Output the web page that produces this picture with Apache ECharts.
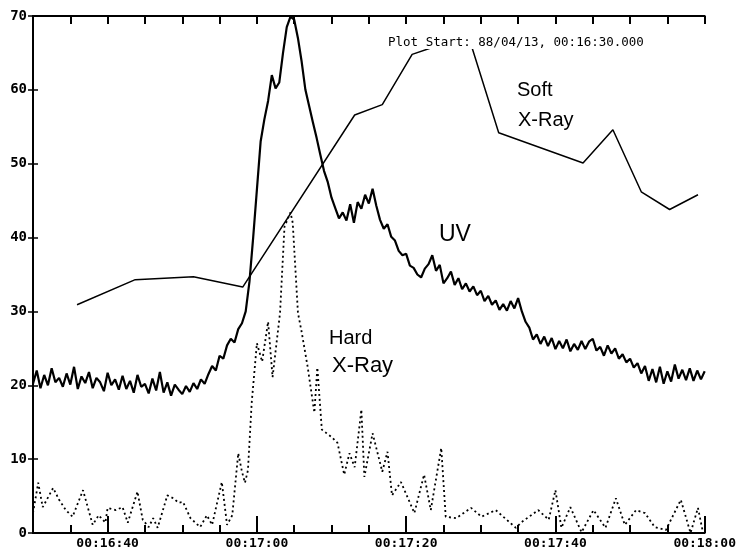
<!DOCTYPE html>
<html>
<head>
<meta charset="utf-8">
<script src="https://cdn.jsdelivr.net/npm/echarts@6/dist/echarts.min.js"></script>
<style>
html,body{margin:0;padding:0;background:#fff;}
#chart{width:739px;height:555px;}
</style>
</head>
<body>
<div id="chart"></div>
<script>
// Seconds after 00:16:30 (plot start)
var xTickValues = [10, 30, 50, 70, 90];
var xTickLabels = ['00:16:40', '00:17:00', '00:17:20', '00:17:40', '00:18:00'];
var yTickValues = [0, 10, 20, 30, 40, 50, 60, 70];

// UV: sampled every 0.5 s from t = 0
var uvStep = 0.5;
var uvValues = [
  20.2, 22.0, 19.6, 21.4, 20.0, 22.3, 20.4, 21.0,
  19.8, 21.6, 20.1, 22.5, 19.5, 21.2, 20.3, 21.8,
  19.6, 21.0, 20.4, 19.2, 21.7, 20.0, 20.8, 19.4,
  21.3, 19.5, 20.6, 19.0, 21.4, 19.8, 20.2, 18.9,
  20.9, 19.3, 21.8, 19.0, 20.4, 18.6, 20.1, 19.4,
  18.8, 19.9, 19.1, 20.3, 19.5, 20.8, 20.2, 21.5,
  22.6, 22.0, 24.0, 23.6, 25.4, 26.3, 25.8, 27.6,
  28.4, 30.0, 34.0, 40.0, 46.5, 53.0, 56.0, 58.5,
  62.0, 60.2, 61.0, 65.0, 68.5, 69.9, 69.5, 67.0,
  63.8, 60.0, 57.8, 55.6, 53.5, 51.2, 49.0, 47.5,
  45.4, 44.0, 42.6, 43.4, 42.3, 44.5, 42.0, 44.8,
  43.9, 45.8, 44.6, 46.6, 44.3, 42.4, 41.2, 41.8,
  40.1, 39.6, 38.2, 37.6, 37.8, 36.2, 35.9, 35.0,
  34.6, 35.8, 36.4, 37.6, 35.5, 36.3, 33.8, 34.5,
  35.4, 33.6, 34.5, 33.0, 33.8, 32.7, 33.4, 32.2,
  32.8, 31.4, 32.1, 30.9, 31.5, 30.2, 31.0, 30.1,
  31.4, 30.4, 31.8, 30.0, 28.6, 27.8, 26.2, 26.9,
  25.6, 26.6, 25.3, 26.4, 24.9, 26.0, 25.0, 26.2,
  24.6, 25.6, 24.8, 26.0, 24.9, 25.9, 26.3, 24.7,
  25.2, 24.0, 25.4, 24.3, 25.0, 23.6, 24.2, 23.1,
  23.6, 22.4, 23.0, 21.6, 22.6, 20.6, 22.2, 20.4,
  22.5, 20.2, 21.9, 20.5, 22.8, 20.9, 22.1, 20.7,
  22.3, 20.6, 22.0, 20.8, 21.9
];

// Soft X-Ray
var softTimes  = [5.9, 13.7, 21.5, 28.1, 43.1, 46.8, 50.8, 53.7, 58.4, 62.4, 73.7, 77.7, 81.5, 85.3, 89.1];
var softValues = [30.9, 34.3, 34.7, 33.3, 56.6, 58.0, 64.8, 65.8, 67.1, 54.2, 50.1, 54.6, 46.2, 43.8, 45.8];

// Hard X-Ray
var hardTimes = [0, 0.7, 1.3, 2.7, 3.5, 4.4, 5.3, 6.7, 8.0, 8.8, 9.7, 10.0, 11.1, 12.0, 12.7, 14.0, 14.7, 15.5, 16.1, 16.7,
  18.0, 18.8, 19.5, 20.1, 21.1, 22.4, 23.3, 24.0, 25.3, 26.0, 26.7, 27.5, 28.0, 28.4, 28.8, 29.3, 30.0, 30.7, 31.5, 32.1,
  33.1, 33.7, 34.5, 34.8, 35.5, 36.0, 36.8, 37.7, 38.1, 38.7, 40.0, 40.8, 41.7, 42.4, 43.1, 44.0, 44.4, 45.5, 46.8, 47.5,
  48.1, 49.3, 51.1, 52.4, 53.3, 54.7, 55.3, 56.7, 58.7, 60.1, 62.0, 64.7, 65.5, 67.7, 69.1, 70.0, 70.8, 72.0, 73.5, 75.1,
  76.7, 78.1, 79.3, 80.8, 82.0, 83.3, 84.8, 86.8, 88.1, 89.1, 89.7];
var hardValues = [2.7, 6.8, 3.5, 6.1, 4.5, 3.1, 2.2, 5.8, 1.1, 2.4, 1.4, 3.4, 3.1, 3.5, 1.4, 5.6, 1.8, 0.8, 2.0, 0.7,
  5.1, 4.7, 4.1, 4.2, 2.0, 0.8, 2.4, 1.1, 6.9, 1.1, 2.4, 10.8, 8.3, 6.8, 8.5, 17.6, 25.7, 23.2, 28.6, 21.1,
  29.8, 41.5, 43.4, 42.0, 29.8, 27.2, 22.5, 16.3, 22.4, 14.0, 13.0, 12.2, 7.9, 10.8, 8.9, 16.7, 7.6, 13.5, 8.3, 11.0,
  5.1, 6.9, 2.7, 7.9, 3.1, 11.5, 2.2, 2.0, 3.4, 2.2, 3.1, 0.7, 1.5, 3.1, 1.8, 5.8, 0.7, 3.5, 0.1, 3.1,
  0.7, 4.7, 1.1, 3.1, 2.7, 0.8, 0.4, 4.5, 0.0, 3.4, 0.4];

var uvData = uvValues.map(function (v, i) { return [i * uvStep, v]; });
var softData = softTimes.map(function (t, i) { return [t, softValues[i]]; });
var hardData = hardTimes.map(function (t, i) { return [t, hardValues[i]]; });

var mono = 'DejaVu Sans Mono';
var hand = 'Liberation Sans';
var black = '#000';

var chart = echarts.init(document.getElementById('chart'), null, {renderer: 'canvas'});
chart.setOption({
  animation: false,
  backgroundColor: '#fff',
  grid: {left: 33, right: 32, top: 16, bottom: 22},
  xAxis: [
    {
      type: 'value', min: 0, max: 90, position: 'bottom',
      axisLine: {show: true, lineStyle: {color: black, width: 2}},
      axisTick: {show: true, inside: true, length: 17, customValues: xTickValues, lineStyle: {color: black, width: 2}},
      axisLabel: {
        customValues: xTickValues, margin: 4, color: black,
        fontFamily: mono, fontWeight: 'bold', fontSize: 13,
        formatter: function (v) { var k = xTickValues.indexOf(v); return k >= 0 ? xTickLabels[k] : ''; }
      },
      splitLine: {show: false}
    },
    {
      type: 'value', min: 0, max: 90, interval: 5, position: 'bottom',
      axisLine: {show: false},
      axisTick: {show: true, inside: true, length: 8, lineStyle: {color: black, width: 2}},
      axisLabel: {show: false}, splitLine: {show: false}
    },
    {
      type: 'value', min: 0, max: 90, interval: 5, position: 'top',
      axisLine: {show: true, lineStyle: {color: black, width: 2}},
      axisTick: {show: true, inside: true, length: 8, lineStyle: {color: black, width: 2}},
      axisLabel: {show: false}, splitLine: {show: false}
    }
  ],
  yAxis: [
    {
      type: 'value', min: 0, max: 70, interval: 10, position: 'left',
      axisLine: {show: true, lineStyle: {color: black, width: 2}},
      axisTick: {show: true, inside: true, length: 5, customValues: yTickValues, lineStyle: {color: black, width: 1.5}},
      axisLabel: {customValues: yTickValues, margin: 6, color: black, fontFamily: mono, fontWeight: 'bold', fontSize: 14},
      splitLine: {show: false}
    },
    {
      type: 'value', min: 0, max: 70, interval: 10, position: 'right',
      axisLine: {show: true, lineStyle: {color: black, width: 2}},
      axisTick: {show: true, inside: true, length: 5, lineStyle: {color: black, width: 1.5}},
      axisLabel: {show: false}, splitLine: {show: false}
    }
  ],
  series: [
    {
      name: 'UV', type: 'line', xAxisIndex: 0, yAxisIndex: 0, data: uvData,
      symbol: 'none', lineStyle: {color: black, width: 2.2}, z: 3
    },
    {
      name: 'Soft X-Ray', type: 'line', xAxisIndex: 0, yAxisIndex: 0, data: softData,
      symbol: 'none', lineStyle: {color: black, width: 1.5}, z: 2
    },
    {
      name: 'Hard X-Ray', type: 'line', xAxisIndex: 0, yAxisIndex: 0, data: hardData,
      symbol: 'none', lineStyle: {color: black, width: 1.8, type: [2, 3]}, z: 2
    }
  ],
  graphic: [
    {type: 'text', left: 388, top: 36, z: 10,
      style: {text: 'Plot Start: 88/04/13, 00:16:30.000', fill: black, font: '12.5px "' + mono + '"', backgroundColor: '#fff'}},
    {type: 'text', left: 517, top: 80, z: 10,
      style: {text: 'Soft', fill: black, font: '20px "' + hand + '"'}},
    {type: 'text', left: 518, top: 110, z: 10,
      style: {text: 'X-Ray', fill: black, font: '20px "' + hand + '"'}},
    {type: 'text', left: 439, top: 223, z: 10,
      style: {text: 'UV', fill: black, font: '23px "' + hand + '"'}},
    {type: 'text', left: 329, top: 328, z: 10,
      style: {text: 'Hard', fill: black, font: '20px "' + hand + '"'}},
    {type: 'text', left: 332, top: 355, z: 10,
      style: {text: 'X-Ray', fill: black, font: '22px "' + hand + '"'}}
  ]
});
</script>
</body>
</html>
